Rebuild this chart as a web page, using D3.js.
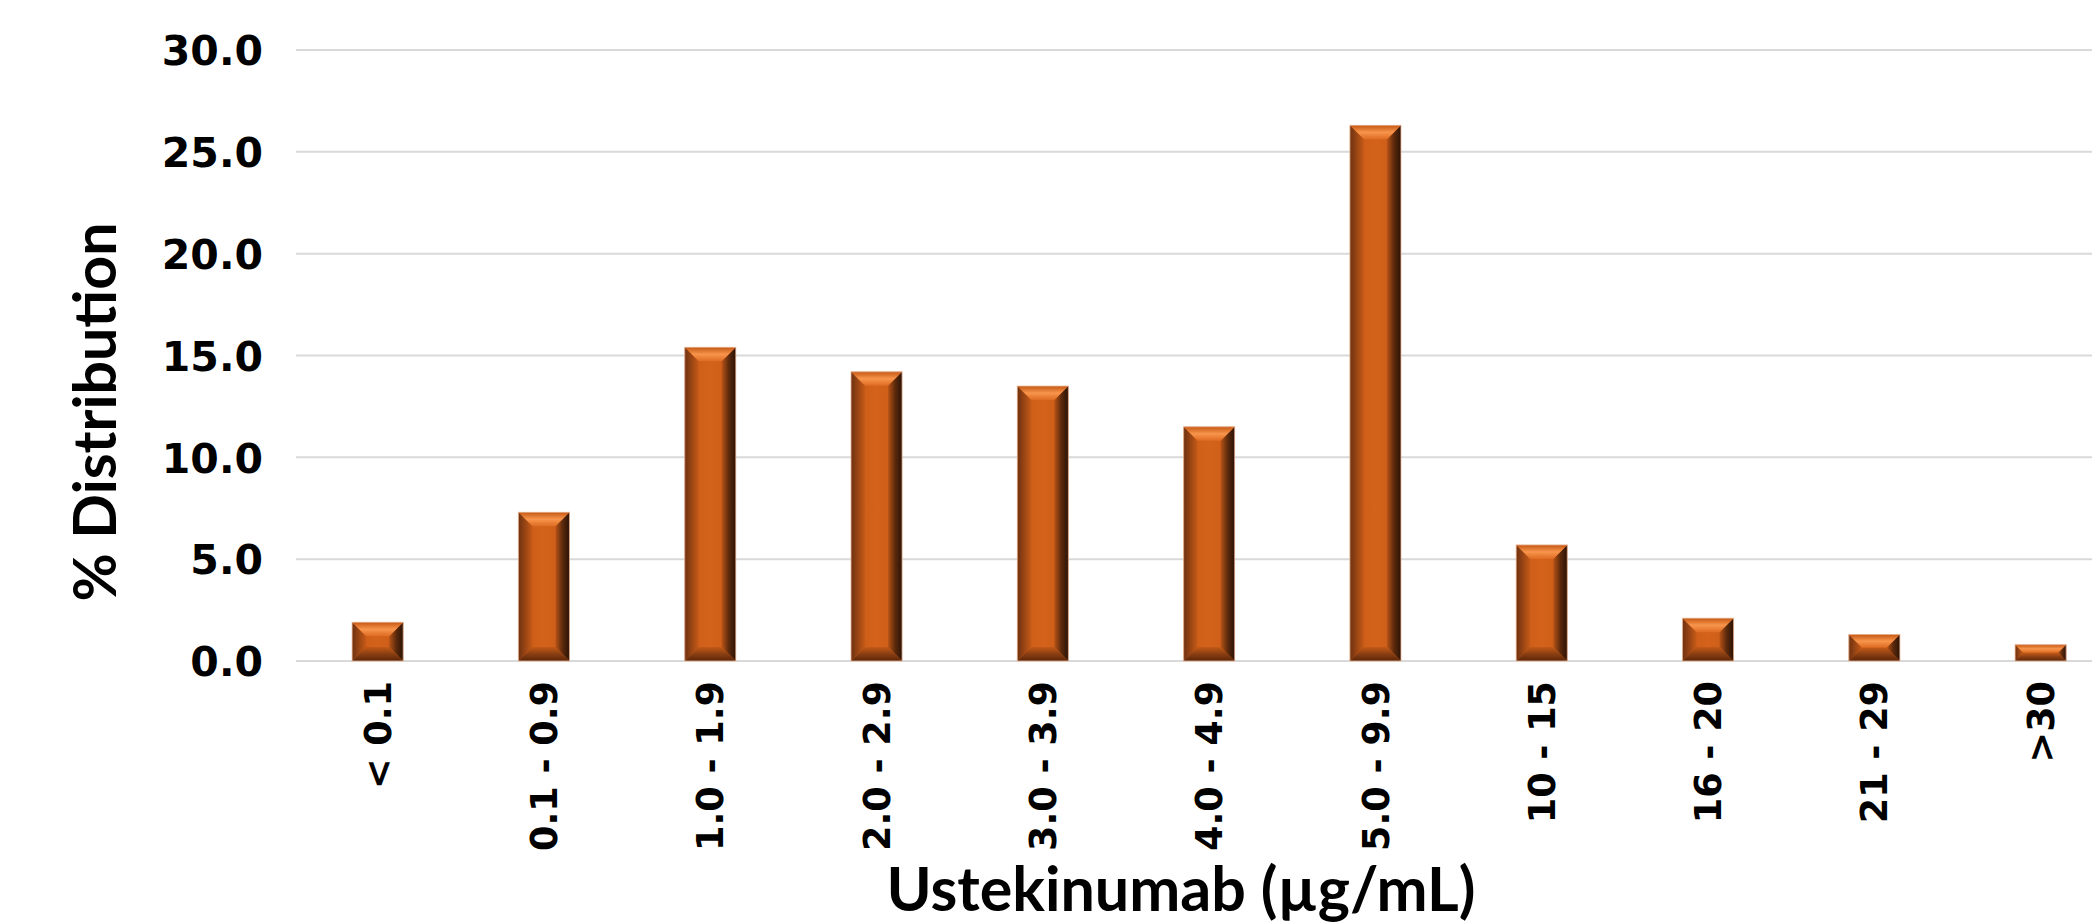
<!DOCTYPE html>
<html>
<head>
<meta charset="utf-8">
<script src="https://cdn.jsdelivr.net/npm/d3@7"></script>
<style>
  html, body { margin: 0; padding: 0; background: #ffffff; }
  svg { display: block; }
</style>
</head>
<body>
<svg id="chart" width="2092" height="923"></svg>
<script>
const categories = ["< 0.1", "0.1 - 0.9", "1.0 - 1.9", "2.0 - 2.9", "3.0 - 3.9", "4.0 - 4.9", "5.0 - 9.9", "10 - 15", "16 - 20", "21 - 29", ">30"];
const values = [1.9, 7.3, 15.4, 14.2, 13.5, 11.5, 26.3, 5.7, 2.1, 1.3, 0.8];
const yTicks = [0, 5, 10, 15, 20, 25, 30];
const yTitle = "% Distribution";
const xTitle = "Ustekinumab (µg/mL)";

const W = 2092, H = 923;
const svg = d3.select("#chart");

const plotLeft = 294.5, step = 166.3;
const x = d3.scaleBand()
  .domain(categories)
  .range([plotLeft, plotLeft + step * categories.length])
  .paddingInner(0.693)
  .paddingOuter(0.3465);
const y = d3.scaleLinear().domain([0, 30]).range([661, 50]);

// gradients
const defs = svg.append("defs");
function lin(id, x1, y1, x2, y2, stops) {
  const g = defs.append("linearGradient").attr("id", id)
    .attr("x1", x1).attr("y1", y1).attr("x2", x2).attr("y2", y2);
  stops.forEach(s => g.append("stop").attr("offset", s[0]).attr("stop-color", s[1]));
}
lin("gBody", 0, 0, 1, 0, [[0, "#c85a18"], [0.5, "#d4621a"], [1, "#c85a18"]]);
lin("gLeft", 0, 0, 1, 0, [[0, "#6e3110"], [1, "#c65a18"]]);
lin("gRight", 1, 0, 0, 0, [[0, "#2a1206"], [0.5, "#5c2a0c"], [1, "#b85316"]]);
lin("gTop", 0, 0, 0, 1, [[0, "#c55814"], [0.5, "#f8954c"], [1, "#dd6a22"]]);
lin("gBottom", 0, 1, 0, 0, [[0, "#5a2508"], [0.5, "#8a3e12"], [1, "#c25a18"]]);

// gridlines
const gridG = svg.append("g");
gridG.selectAll("line").data(yTicks).join("line")
  .attr("x1", 296).attr("x2", W)
  .attr("y1", d => y(d)).attr("y2", d => y(d))
  .attr("stroke", "#d9d9d9").attr("stroke-width", 2);

// y axis labels
const yAxis = d3.axisLeft(y).tickValues(yTicks).tickFormat(d3.format(".1f")).tickSize(0).tickPadding(0);
const yG = svg.append("g").attr("transform", "translate(263,0)").call(yAxis);
yG.select(".domain").remove();
yG.selectAll("text")
  .attr("font-family", "'DejaVu Sans', Verdana, sans-serif")
  .attr("font-weight", "bold")
  .attr("font-size", 41)
  .attr("fill", "#000")
  .attr("dy", "0.36em");

// x axis labels
const xAxis = d3.axisBottom(x).tickSize(0).tickPadding(0);
const xG = svg.append("g").attr("transform", "translate(0,681)").call(xAxis);
xG.select(".domain").remove();
xG.selectAll("text")
  .attr("font-family", "'DejaVu Sans', Verdana, sans-serif")
  .attr("font-weight", "bold")
  .attr("font-size", 36.5)
  .attr("fill", "#000")
  .attr("transform", "rotate(-90)")
  .attr("text-anchor", "end")
  .attr("x", 0)
  .attr("y", 0)
  .attr("dx", 0)
  .attr("dy", "0.36em");

// bars with bevel
const bars = svg.append("g").selectAll("g.bar")
  .data(categories.map((c, i) => ({ c, v: values[i] })))
  .join("g").attr("class", "bar");

bars.each(function (d) {
  const g = d3.select(this);
  const bx = x(d.c), bw = x.bandwidth();
  const by = y(d.v), bh = y(0) - y(d.v);
  const b = Math.min(14, bh / 2, bw / 2);
  g.append("rect").attr("x", bx).attr("y", by).attr("width", bw).attr("height", bh).attr("fill", "url(#gBody)");
  const pts = a => a.map(p => p.join(",")).join(" ");
  g.append("polygon").attr("fill", "url(#gLeft)")
    .attr("points", pts([[bx, by], [bx + b, by + b], [bx + b, by + bh - b], [bx, by + bh]]));
  g.append("polygon").attr("fill", "url(#gRight)")
    .attr("points", pts([[bx + bw, by], [bx + bw - b, by + b], [bx + bw - b, by + bh - b], [bx + bw, by + bh]]));
  g.append("polygon").attr("fill", "url(#gTop)")
    .attr("points", pts([[bx, by], [bx + bw, by], [bx + bw - b, by + b], [bx + b, by + b]]));
  g.append("polygon").attr("fill", "url(#gBottom)")
    .attr("points", pts([[bx, by + bh], [bx + bw, by + bh], [bx + bw - b, by + bh - b], [bx + b, by + bh - b]]));
  g.append("rect").attr("x", bx).attr("y", by).attr("width", bw).attr("height", bh)
    .attr("fill", "none").attr("stroke", "#e9b89a").attr("stroke-width", 1).attr("stroke-opacity", 0.8);
});

// axis titles
svg.append("text")
  .attr("transform", "translate(116,412) rotate(-90)")
  .attr("text-anchor", "middle")
  .attr("font-family", "Lato, 'Open Sans', sans-serif")
  .attr("font-weight", "bold")
  .attr("font-size", 59)
  .attr("fill", "#000")
  .text(yTitle);

svg.append("text")
  .attr("x", 1181).attr("y", 911)
  .attr("text-anchor", "middle")
  .attr("font-family", "Lato, 'Open Sans', sans-serif")
  .attr("font-weight", "bold")
  .attr("font-size", 61)
  .attr("fill", "#000")
  .text(xTitle);
</script>
</body>
</html>
